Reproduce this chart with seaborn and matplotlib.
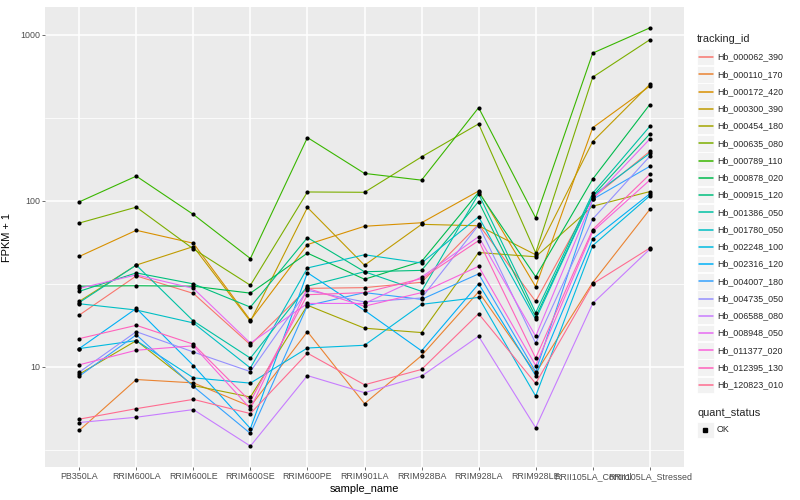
import matplotlib
matplotlib.use("Agg")
import matplotlib.pyplot as plt
import seaborn as sns
import pandas as pd
import numpy as np
from matplotlib.ticker import FixedLocator, NullLocator
from matplotlib.lines import Line2D
from matplotlib.patches import Rectangle

# ---- data (values are FPKM + 1) ----
samples = ["PB350LA", "RRIM600LA", "RRIM600LE", "RRIM600SE", "RRIM600PE",
           "RRIM901LA", "RRIM928BA", "RRIM928LA", "RRIM928LE",
           "RRII105LA_Control", "RRII105LA_Stressed"]

tracking_ids = ["Hb_000062_390", "Hb_000110_170", "Hb_000172_420", "Hb_000300_390",
                "Hb_000454_180", "Hb_000635_080", "Hb_000789_110", "Hb_000878_020",
                "Hb_000915_120", "Hb_001386_050", "Hb_001780_050", "Hb_002248_100",
                "Hb_002316_120", "Hb_004007_180", "Hb_004735_050", "Hb_006588_080",
                "Hb_008948_050", "Hb_011377_020", "Hb_012395_130", "Hb_120823_010"]

hb_000062_390 = [20.5, 35.3, 27.7, 13.6, 29.7, 30.0, 32.3, 72.1, 24.8, 104, 198]
hb_000110_170 = [4.15, 8.40, 8.02, 5.79, 16.3, 6.01, 11.7, 28.3, 9.17, 32.2, 88.6]
hb_000172_420 = [46.2, 66.4, 55.5, 19.1, 54.5, 70.2, 73.7, 114.4, 30.4, 275, 489]
hb_000300_390 = [24.8, 41.0, 53.0, 18.8, 91.1, 40.9, 72.1, 70.7, 47.3, 227, 501]
hb_000454_180 = [9.04, 14.4, 7.73, 6.59, 23.5, 17.1, 16.1, 48.8, 46.0, 92.7, 113.5]
hb_000635_080 = [73.4, 91.5, 51.3, 31.0, 112.9, 112.4, 183.6, 290, 48.6, 554, 930]
hb_000789_110 = [98.4, 140.6, 82.7, 44.9, 240, 146, 133, 363, 78.9, 773, 1096]
hb_000878_020 = [30.6, 30.8, 30.6, 27.8, 48.4, 33.7, 43.1, 112.4, 34.9, 135, 379]
hb_000915_120 = [28.5, 36.8, 31.6, 22.9, 60.0, 37.4, 38.1, 98.9, 20.0, 107, 252]
hb_001386_050 = [24.4, 41.0, 18.9, 11.3, 30.6, 37.4, 28.5, 110, 21.2, 111, 280]
hb_001780_050 = [24.0, 22.0, 18.4, 9.86, 39.4, 47.3, 42.2, 80.0, 19.3, 107, 193]
hb_002248_100 = [12.9, 14.4, 8.60, 7.99, 13.0, 13.5, 23.8, 26.2, 6.68, 53.7, 107]
hb_002316_120 = [12.9, 22.5, 10.2, 4.26, 36.9, 21.9, 12.5, 31.6, 8.87, 58.9, 110]
hb_004007_180 = [8.80, 15.6, 7.63, 3.98, 23.4, 28.0, 25.5, 36.3, 9.37, 102, 161]
hb_004735_050 = [9.30, 16.3, 12.3, 9.37, 28.9, 24.6, 26.0, 71.4, 13.9, 77.6, 185]
hb_006588_080 = [4.63, 4.98, 5.54, 3.34, 8.87, 7.00, 8.80, 15.3, 4.31, 24.1, 51.1]
hb_008948_050 = [29.7, 35.8, 29.7, 13.9, 24.1, 24.1, 34.7, 60.8, 15.3, 102, 235]
hb_011377_020 = [10.3, 12.6, 13.4, 5.61, 29.7, 23.2, 28.0, 40.3, 10.2, 65.3, 133]
hb_012395_130 = [14.8, 17.8, 13.7, 6.21, 27.2, 28.0, 34.0, 57.5, 11.3, 67.1, 144]
hb_120823_010 = [4.85, 5.61, 6.38, 5.24, 12.1, 7.81, 9.66, 20.9, 7.95, 31.6, 51.9]

series = [hb_000062_390, hb_000110_170, hb_000172_420, hb_000300_390, hb_000454_180,
          hb_000635_080, hb_000789_110, hb_000878_020, hb_000915_120, hb_001386_050,
          hb_001780_050, hb_002248_100, hb_002316_120, hb_004007_180, hb_004735_050,
          hb_006588_080, hb_008948_050, hb_011377_020, hb_012395_130, hb_120823_010]

# ggplot2 default hue palette for 20 levels
hue_colors = ["#F8766D", "#EA8331", "#D89000", "#C09B00", "#A3A500", "#7CAE00",
              "#39B600", "#00BB4E", "#00BF7D", "#00C1A3", "#00BFC4", "#00BAE0",
              "#00B0F6", "#35A2FF", "#9590FF", "#C77CFF", "#E76BF3", "#FA62DB",
              "#FF62BC", "#FF6C90"]

df = pd.DataFrame({
    "tracking_id": np.repeat(tracking_ids, len(samples)),
    "sample_name": samples * len(tracking_ids),
    "fpkm_plus1": np.concatenate(series),
})
df["x"] = df["sample_name"].map({s: i for i, s in enumerate(samples)})

# ---- style ----
sns.set_theme(style="white")
plt.rcParams["font.family"] = ["Liberation Sans", "DejaVu Sans"]

fig = plt.figure(figsize=(8, 5), dpi=100)
ax = fig.add_axes([45 / 800, 1 - 467 / 500, (684 - 45) / 800, (467 - 7) / 500])
ax.set_facecolor("#EBEBEB")

sns.lineplot(data=df, x="x", y="fpkm_plus1", hue="tracking_id", hue_order=tracking_ids,
             palette=hue_colors, estimator=None, sort=False, linewidth=0.8,
             legend=False, ax=ax, zorder=2)
sns.scatterplot(data=df, x="x", y="fpkm_plus1", color="black", s=9, linewidth=0,
                legend=False, ax=ax, zorder=3)

ax.set_yscale("log")
lo = np.log10(df["fpkm_plus1"].min())
hi = np.log10(df["fpkm_plus1"].max())
pad = (hi - lo) * 0.05
ax.set_ylim(10 ** (lo - pad), 10 ** (hi + pad))
ax.set_xlim(-0.6, len(samples) - 0.4)

ax.yaxis.set_major_locator(FixedLocator([10, 100, 1000]))
ax.set_yticklabels(["10", "100", "1000"])
ax.yaxis.set_minor_locator(FixedLocator([10 ** 0.5, 10 ** 1.5, 10 ** 2.5]))
ax.set_xticks(range(len(samples)))
ax.set_xticklabels(samples)
ax.xaxis.set_minor_locator(NullLocator())

ax.grid(which="major", color="white", linewidth=1.1, zorder=0)
ax.grid(which="minor", axis="y", color="white", linewidth=0.55, zorder=0)
ax.set_axisbelow(True)
for sp in ax.spines.values():
    sp.set_visible(False)
ax.tick_params(which="major", length=2.0, width=0.5, color="#333333",
               labelcolor="#4D4D4D", labelsize=6.4, pad=1.6, direction="out",
               bottom=True, left=True)
ax.tick_params(which="minor", length=0)

ax.set_xlabel("sample_name", fontsize=7.9, color="black", labelpad=2)
ax.set_ylabel("FPKM + 1", fontsize=7.9, color="black", labelpad=6)

# ---- legends (drawn like ggplot's guide boxes) ----
def fx(px):
    return px / 800

def fy(py):
    return 1 - py / 500

fig.text(fx(697), fy(39), "tracking_id", fontsize=7.9, va="center", ha="left")
step = 17.26
for i, (tid, col) in enumerate(zip(tracking_ids, hue_colors)):
    cy = 57 + i * step
    fig.add_artist(Rectangle((fx(697), fy(cy + 8.3)), fx(16.6), 16.6 / 500,
                             transform=fig.transFigure, facecolor="#F2F2F2",
                             edgecolor="white", linewidth=0.6, zorder=1))
    fig.add_artist(Line2D([fx(698.5), fx(712.5)], [fy(cy), fy(cy)],
                          transform=fig.transFigure, color=col, linewidth=1.1,
                          zorder=2))
    fig.text(fx(717), fy(cy), tid, fontsize=6.4, va="center", ha="left")

fig.text(fx(697), fy(413), "quant_status", fontsize=7.9, va="center", ha="left")
fig.add_artist(Rectangle((fx(697), fy(430 + 8.3)), fx(16.6), 16.6 / 500,
                         transform=fig.transFigure, facecolor="#F2F2F2",
                         edgecolor="white", linewidth=0.6, zorder=1))
fig.add_artist(Line2D([fx(705.3)], [fy(430)], transform=fig.transFigure,
                      marker="s", markersize=2.6, color="black", linestyle="none",
                      zorder=2))
fig.text(fx(717), fy(430), "OK", fontsize=6.4, va="center", ha="left")

fig.savefig("out.png", dpi=100, facecolor="white")
plt.close(fig)
